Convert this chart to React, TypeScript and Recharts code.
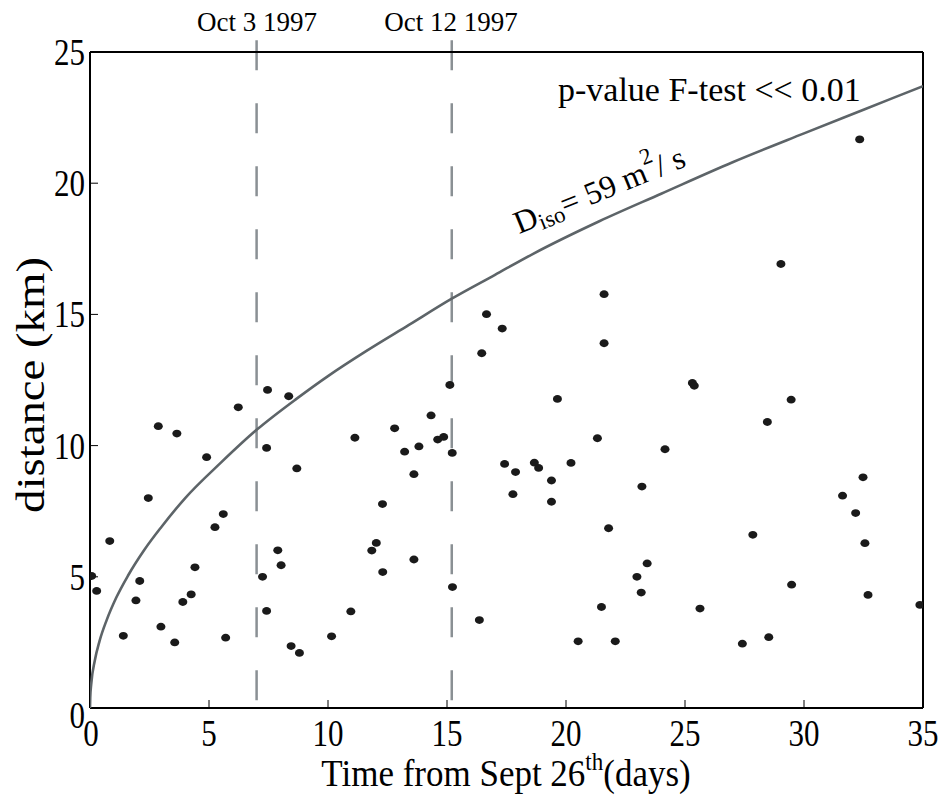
import React from 'react';
import { ScatterChart, Scatter, XAxis, YAxis, ReferenceLine } from 'recharts';

// axis ticks
const dayTicks = [0, 5, 10, 15, 20, 25, 30, 35];
const kmTicks = [0, 5, 10, 15, 20, 25];

// dashed event markers
const eventDays = [7.0, 15.2];
const eventLabels = ['Oct 3 1997', 'Oct 12 1997'];

const pointDays = [
  0.07, 0.28, 0.83, 1.4, 1.93, 2.09, 2.45, 2.87, 2.98, 3.56, 3.65, 3.9, 4.25, 4.41, 4.9,
  5.25, 5.6, 5.7, 6.23, 7.25, 7.42, 7.46, 7.42, 7.89, 8.03, 8.35, 8.45, 8.69, 8.8, 10.15,
  10.96, 11.13, 11.84, 12.03, 12.29, 12.3, 12.8, 13.22, 13.61, 13.61, 13.82, 14.33, 14.61,
  14.86, 15.12, 15.22, 15.23, 16.36, 16.46, 16.66, 17.32, 17.42, 17.77, 17.88, 18.67, 18.85,
  19.39, 19.39, 19.64, 20.21, 20.51, 21.32, 21.49, 21.6, 21.6, 21.79, 22.07, 22.98, 23.16,
  23.19, 23.41, 24.16, 25.31, 25.39, 25.63, 27.41, 27.85, 28.46, 28.52, 29.03, 29.46, 29.48,
  31.62, 32.17, 32.34, 32.48, 32.56, 32.69, 34.87,
];
const pointKm = [
  5.03, 4.46, 6.36, 2.75, 4.1, 4.84, 8.0, 10.74, 3.1, 2.5, 10.46, 4.04, 4.33, 5.36, 9.56,
  6.89, 7.39, 2.68, 11.46, 5.0, 9.91, 12.12, 3.7, 6.01, 5.44, 11.88, 2.36, 9.13, 2.1, 2.73,
  3.68, 10.3, 6.0, 6.29, 7.77, 5.18, 10.66, 9.77, 8.91, 5.66, 9.97, 11.15, 10.23,
  10.33, 12.31, 9.72, 4.61, 3.35, 13.52, 15.01, 14.46, 9.3, 8.15, 8.99, 9.35, 9.15,
  8.67, 7.86, 11.78, 9.34, 2.54, 10.28, 3.85, 13.9, 15.77, 6.85, 2.54, 5.0, 4.4,
  8.44, 5.51, 9.86, 12.39, 12.28, 3.79, 2.45, 6.6, 10.9, 2.7, 16.92, 11.75, 4.7,
  8.09, 7.43, 21.67, 8.79, 6.28, 4.31, 3.93,
];

// isotropic diffusion fit (D = 59 m^2/s), sampled along the drawn curve
const fitDays = [0, 0.01, 0.05, 0.2, 0.4, 0.7, 1.1, 1.6, 2.3, 3, 4, 5.5, 7, 8.7, 10, 11.6, 13.4, 15.2, 17, 18.6, 21.4, 24, 27, 30, 32.5, 35];
const fitKm = [0, 0.4, 0.9, 1.8, 2.55, 3.35, 4.2, 5.05, 6.05, 6.9, 8.0, 9.35, 10.6, 11.8, 12.65, 13.6, 14.6, 15.6, 16.5, 17.3, 18.55, 19.6, 20.8, 21.9, 22.8, 23.7];

const FONT = '"Liberation Serif", "Times New Roman", serif';
const INK = '#000';

const points = pointDays.map((x, i) => ({ x, y: pointKm[i] }));
const fit = fitDays.map((x, i) => ({ x, y: fitKm[i] }));

const Dot = (props: any) => (
  <ellipse cx={props.cx} cy={props.cy} rx={4.5} ry={3.9} fill="#1a1a1a" />
);

// matlab-ish tall tick digits
const BottomTick = (props: any) => {
  const { x, y, payload } = props;
  const dx = payload.value === 0 ? 1 : 0;
  return (
    <text
      transform={`translate(${x + dx} ${y + 38}) scale(1 1.25)`}
      textAnchor="middle"
      fontSize={31}
      fontFamily={FONT}
      fill={INK}
    >
      {payload.value}
    </text>
  );
};

const LeftTick = (props: any) => {
  const { x, y, payload } = props;
  const dy = payload.value === 0 ? 7 : 0;
  return (
    <text
      transform={`translate(${x} ${y + 13 + dy}) scale(1 1.25)`}
      textAnchor="end"
      fontSize={31}
      fontFamily={FONT}
      fill={INK}
    >
      {payload.value}
    </text>
  );
};

export default function App() {
  return (
    <div style={{ position: 'absolute', left: 0, top: 0, width: 942, height: 800, background: '#fff', fontFamily: FONT }}>
      <ScatterChart width={942} height={800} margin={{ top: 51, right: 18, bottom: 42, left: 30 }}>
        <XAxis
          xAxisId={0}
          type="number"
          dataKey="x"
          domain={[0, 35]}
          ticks={dayTicks}
          allowDataOverflow
          height={50}
          axisLine={{ stroke: INK, strokeWidth: 2 }}
          tickLine={{ stroke: INK, strokeWidth: 1 }}
          tickSize={-8}
          tickMargin={8}
          tick={<BottomTick />}
        />
        <XAxis
          xAxisId="top"
          orientation="top"
          type="number"
          dataKey="x"
          domain={[0, 35]}
          ticks={dayTicks}
          allowDataOverflow
          height={1}
          axisLine={{ stroke: INK, strokeWidth: 2 }}
          tickLine={{ stroke: INK, strokeWidth: 1 }}
          tickSize={-8}
          tick={false}
        />
        <YAxis
          yAxisId={0}
          type="number"
          dataKey="y"
          domain={[0, 25]}
          ticks={kmTicks}
          allowDataOverflow
          width={60}
          axisLine={{ stroke: INK, strokeWidth: 2 }}
          tickLine={{ stroke: INK, strokeWidth: 1 }}
          tickSize={-8}
          tickMargin={13}
          tick={<LeftTick />}
        />
        <YAxis
          yAxisId="right"
          orientation="right"
          type="number"
          dataKey="y"
          domain={[0, 25]}
          ticks={kmTicks}
          allowDataOverflow
          width={1}
          axisLine={{ stroke: INK, strokeWidth: 2 }}
          tickLine={{ stroke: INK, strokeWidth: 1 }}
          tickSize={-8}
          tick={false}
        />
        {eventDays.map((d) => (
          <ReferenceLine
            key={d}
            segment={[{ x: d, y: 25.45 }, { x: d, y: 0.15 }]}
            stroke="#8a9094"
            strokeWidth={2.5}
            strokeDasharray="30 33"
            ifOverflow="visible"
          />
        ))}
        <Scatter
          data={fit}
          xAxisId="top"
          yAxisId="right"
          line={{ stroke: '#5d6468', strokeWidth: 2.6 }}
          lineJointType="monotoneX"
          shape={() => <g />}
          isAnimationActive={false}
        />
        <Scatter data={points} shape={<Dot />} isAnimationActive={false} />
      </ScatterChart>

      <svg
        width={942}
        height={800}
        style={{ position: 'absolute', left: 0, top: 0, pointerEvents: 'none' }}
        fontFamily={FONT}
        fill={INK}
      >
        {eventLabels.map((t, i) => (
          <text key={t} x={i === 0 ? 257 : 451} y={31} textAnchor="middle" fontSize={27}>
            {t}
          </text>
        ))}
        <text x={558} y={101} fontSize={34}>
          p-value F-test &lt;&lt; 0.01
        </text>
        <text transform="translate(519 234) rotate(-22)" fontSize={32}>
          D
          <tspan fontSize={23} dy={5}>iso</tspan>
          <tspan dy={-5}>= 59 m</tspan>
          <tspan fontSize={23} dy={-17}>2</tspan>
          <tspan dy={17}>/ s</tspan>
        </text>
        <text transform="translate(44 385) rotate(-90) scale(1.2 1)" textAnchor="middle" fontSize={39}>
          distance (km)
        </text>
        <text transform="translate(506 786) scale(1 1.1)" textAnchor="middle" fontSize={35}>
          Time from Sept 26
          <tspan fontSize={23} dy={-15}>th</tspan>
          <tspan dy={15}>(days)</tspan>
        </text>
      </svg>
    </div>
  );
}
